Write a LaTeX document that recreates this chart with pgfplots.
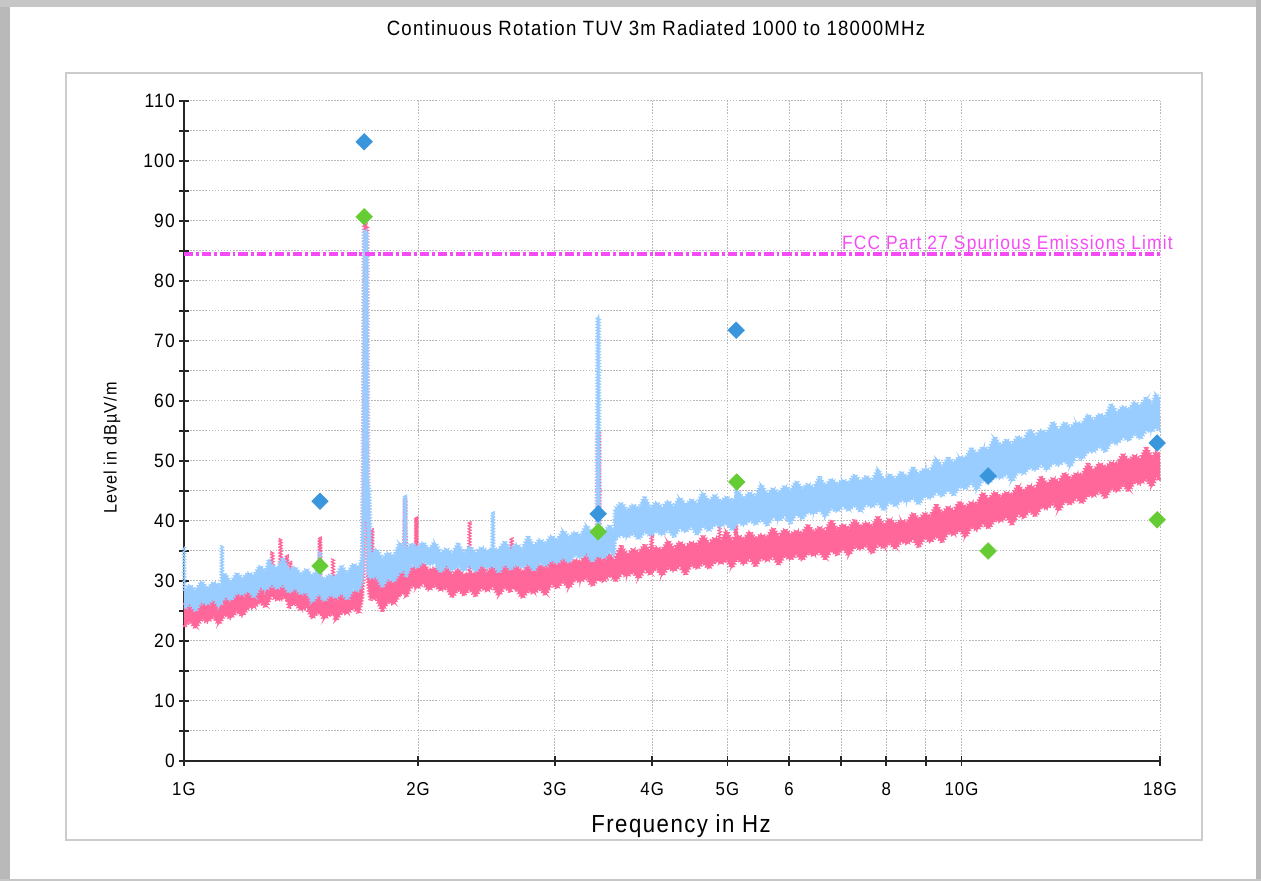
\documentclass[border=0pt]{standalone}
\usepackage{fontspec}
\setmainfont{Liberation Sans}[FakeStretch=0.9, LetterSpace=6]
\usepackage{pgfplots}
\usepackage{pgfplotstable}
\pgfplotsset{compat=1.18}
\usepgfplotslibrary{fillbetween}
\usetikzlibrary{decorations.pathmorphing}

\definecolor{traceblue}{RGB}{153,204,255}
\definecolor{tracepink}{RGB}{255,102,153}
\definecolor{mkblue}{RGB}{58,150,220}
\definecolor{mkgreen}{RGB}{102,204,51}
\definecolor{limitmag}{RGB}{245,75,245}
\definecolor{gridgray}{RGB}{185,185,185}

% blue trace: upper / lower edge of the noise band (GHz, dBuV/m)
\pgfplotstableread{
f hi lo
1.000 35.7 25.4
1.002 28.2 25.4
1.017 29.4 26.3
1.035 28.3 25.0
1.053 30.0 26.6
1.072 28.7 26.1
1.091 29.8 27.1
1.109 29.2 25.7
1.117 29.4 26.5
1.119 36.0 26.5
1.121 29.4 26.5
1.129 31.3 27.6
1.148 29.7 26.7
1.169 31.3 28.1
1.189 30.4 27.7
1.210 31.4 28.5
1.230 30.9 27.2
1.252 32.6 29.0
1.274 31.5 28.5
1.286 33.7 28.9
1.296 32.7 29.5
1.318 32.0 28.7
1.341 33.9 29.5
1.365 31.7 28.0
1.389 32.4 28.9
1.413 31.0 27.8
1.438 32.0 28.3
1.462 30.7 26.4
1.488 32.0 27.9
1.494 30.8 27.6
1.496 35.0 27.6
1.498 30.8 27.6
1.514 30.2 26.6
1.540 31.1 27.8
1.567 30.4 27.2
1.594 32.6 28.1
1.622 31.2 26.9
1.650 32.9 28.7
1.679 32.2 28.3
1.695 34.0 30.0
1.700 47.0 32.0
1.705 88.5 40.0
1.720 88.5 40.0
1.724 47.0 31.0
1.731 45.0 30.5
1.738 34.2 30.4
1.768 35.4 30.8
1.799 33.7 29.0
1.830 34.8 30.5
1.862 34.0 29.9
1.895 36.5 31.5
1.920 35.3 31.8
1.925 44.3 31.8
1.930 35.0 30.7
1.961 36.3 32.8
1.995 35.5 32.2
2.030 36.5 33.3
2.065 35.2 32.7
2.101 36.5 33.0
2.138 34.7 31.4
2.175 35.4 32.7
2.213 34.5 31.7
2.251 36.3 32.5
2.291 34.5 31.6
2.330 35.8 32.7
2.371 34.7 31.5
2.412 35.6 32.8
2.455 35.0 32.1
2.492 35.3 32.6
2.496 41.5 32.6
2.500 35.3 32.6
2.541 35.2 31.4
2.585 36.6 33.0
2.630 35.2 31.9
2.676 36.2 32.9
2.723 35.3 32.2
2.770 37.5 33.0
2.818 35.7 31.7
2.867 37.0 33.2
2.917 36.2 32.5
2.968 37.6 33.6
3.020 36.7 32.9
3.073 38.5 34.1
3.126 37.2 33.0
3.181 38.2 34.4
3.236 37.5 33.8
3.293 39.4 34.7
3.350 37.7 33.2
3.398 39.0 34.2
3.402 74.0 34.2
3.418 74.0 34.2
3.422 39.5 34.2
3.467 38.0 33.8
3.528 39.3 35.0
3.575 38.3 34.3
3.585 42.0 37.0
3.652 43.1 37.7
3.715 41.7 37.2
3.780 42.8 38.0
3.846 42.0 36.9
3.913 44.1 38.3
3.981 42.1 37.5
4.050 43.2 38.4
4.121 42.2 37.6
4.193 43.4 38.6
4.266 42.3 37.3
4.340 44.0 38.8
4.416 42.6 38.2
4.493 43.6 39.1
4.571 42.9 37.6
4.651 44.8 39.3
4.732 43.1 38.3
4.815 44.4 39.5
4.898 43.2 39.0
4.984 44.0 39.7
5.070 43.4 38.4
5.130 43.9 39.3
5.135 46.0 39.3
5.140 43.9 39.3
5.158 45.0 39.9
5.248 43.7 39.2
5.340 44.8 40.2
5.433 44.0 39.4
5.528 46.2 40.4
5.623 44.3 39.2
5.721 45.5 40.6
5.821 44.6 40.0
5.923 45.9 40.9
6.026 45.0 39.5
6.131 46.7 41.3
6.237 45.3 40.3
6.346 46.2 41.6
6.457 45.5 41.1
6.569 47.4 41.9
6.683 45.7 40.6
6.800 47.1 42.2
6.918 46.1 41.5
7.039 46.9 42.5
7.161 46.3 41.7
7.286 47.8 42.7
7.413 46.5 41.5
7.543 47.5 42.9
7.674 46.6 42.3
7.808 48.7 43.2
7.943 46.7 41.7
8.082 47.8 43.4
8.222 46.9 42.4
8.366 48.2 43.6
8.511 47.2 43.1
8.660 49.0 43.9
8.810 47.7 42.7
8.964 48.8 44.3
9.120 48.3 43.7
9.279 50.5 44.8
9.441 49.0 44.1
9.606 50.6 45.3
9.772 49.7 44.2
9.943 50.8 45.8
10.12 50.4 45.3
10.29 52.2 46.4
10.47 51.1 45.1
10.65 52.4 47.0
10.84 51.8 46.2
11.03 54.1 47.5
11.22 52.4 47.1
11.42 53.6 47.8
11.61 52.7 46.5
11.82 54.2 48.3
12.02 53.4 47.8
12.23 55.3 49.0
12.45 54.1 48.4
12.66 55.2 49.5
12.88 54.6 48.4
13.11 56.6 49.8
13.34 55.0 49.2
13.57 56.5 50.2
13.80 55.5 48.9
14.05 56.5 50.9
14.29 56.1 50.2
14.54 57.8 51.7
14.79 56.7 51.5
15.05 57.9 52.5
15.31 57.3 51.5
15.58 59.6 53.3
15.85 57.9 52.8
16.13 59.2 54.0
16.41 58.5 53.4
16.69 59.9 54.6
16.98 59.0 53.6
17.28 60.7 55.2
17.58 59.4 54.8
17.80 61.3 55.8
18.00 60.0 54.9
}\bluetrace

% pink trace
\pgfplotstableread{
f hi lo
1.000 26.0 22.3
1.017 26.9 23.4
1.035 26.0 22.1
1.053 27.5 23.7
1.072 26.4 23.1
1.091 27.3 24.1
1.109 26.7 22.7
1.129 28.5 24.5
1.148 27.0 23.7
1.169 28.5 25.0
1.189 27.7 24.1
1.210 28.6 25.7
1.230 28.2 25.5
1.252 30.0 26.6
1.274 28.9 25.6
1.296 29.9 27.5
1.299 34.8 27.4
1.302 29.5 27.3
1.318 29.2 26.8
1.328 29.3 27.0
1.331 37.0 27.0
1.334 29.3 27.0
1.341 30.8 27.3
1.354 29.0 27.0
1.356 34.3 27.0
1.358 29.0 26.9
1.365 28.7 25.4
1.370 33.2 25.8
1.373 28.7 26.0
1.389 29.2 26.3
1.413 27.9 25.1
1.438 28.9 25.6
1.462 27.2 23.7
1.488 27.7 24.9
1.494 27.2 24.6
1.496 37.3 24.6
1.498 27.2 24.6
1.514 26.7 23.6
1.540 28.3 24.5
1.553 27.0 24.3
1.555 33.8 24.3
1.557 27.0 24.3
1.567 26.7 23.3
1.594 28.2 24.8
1.622 27.4 24.5
1.650 28.4 25.6
1.679 28.2 24.6
1.695 29.5 27.0
1.700 49.0 30.0
1.705 89.5 40.0
1.720 89.5 40.0
1.724 47.0 30.0
1.731 42.0 28.0
1.738 30.3 26.8
1.743 30.0 27.0
1.745 38.8 27.0
1.747 30.0 27.0
1.768 30.9 27.1
1.799 29.2 24.9
1.830 30.3 26.6
1.862 29.7 26.1
1.895 32.3 27.8
1.920 31.3 28.0
1.925 44.0 28.0
1.930 31.2 27.2
1.961 32.5 29.2
1.987 32.0 29.0
1.990 40.7 29.0
1.993 31.9 28.7
2.030 33.1 29.6
2.065 31.7 28.4
2.101 32.2 29.3
2.138 31.2 28.4
2.175 32.7 28.9
2.213 31.0 27.2
2.251 32.1 28.7
2.291 31.0 27.6
2.327 31.3 28.6
2.330 39.8 28.6
2.333 31.3 28.6
2.371 31.2 27.4
2.412 32.8 28.9
2.455 31.5 28.3
2.497 32.4 29.1
2.541 31.7 27.5
2.585 33.5 29.1
2.630 31.7 28.1
2.640 37.3 28.7
2.645 31.7 28.7
2.676 32.5 28.7
2.723 31.4 27.1
2.770 32.9 28.4
2.818 31.7 27.9
2.867 32.7 28.8
2.917 32.2 27.6
2.968 34.1 29.5
3.020 32.7 28.8
3.073 33.9 30.0
3.126 32.9 28.7
3.181 33.6 30.3
3.236 33.1 29.8
3.293 34.6 30.6
3.350 33.3 29.1
3.398 34.0 30.2
3.402 55.0 30.2
3.418 55.0 30.2
3.422 34.0 30.2
3.467 33.4 29.9
3.528 34.5 31.0
3.575 33.5 30.3
3.589 33.9 29.9
3.652 35.9 31.2
3.715 34.2 30.7
3.780 35.4 31.6
3.846 34.7 30.3
3.913 36.1 31.9
3.981 34.9 31.0
3.997 37.7 31.5
4.003 35.0 31.6
4.050 35.7 32.1
4.121 35.1 30.8
4.193 36.8 32.3
4.266 35.3 31.6
4.340 36.6 32.5
4.416 35.7 31.0
4.493 36.5 32.8
4.571 36.0 32.0
4.651 37.6 33.1
4.732 36.3 32.0
4.815 37.2 33.3
4.880 37.0 33.2
4.885 41.0 33.2
4.890 37.0 33.2
4.898 36.5 32.8
4.984 38.4 33.5
5.070 36.7 32.1
5.120 37.5 33.3
5.125 41.0 33.3
5.130 37.5 33.3
5.158 37.7 33.7
5.248 36.9 32.7
5.340 38.3 33.8
5.433 37.0 32.4
5.528 37.8 33.9
5.623 37.2 33.3
5.721 38.9 34.1
5.821 37.4 32.6
5.923 38.7 34.3
6.026 37.7 33.5
6.131 38.4 34.5
6.237 37.9 33.4
6.346 39.4 34.7
6.457 38.1 34.2
6.569 39.0 34.9
6.683 38.3 33.5
6.800 40.2 35.2
6.918 38.5 34.3
7.039 39.5 35.5
7.161 38.7 34.2
7.286 40.2 35.8
7.413 39.0 35.2
7.543 39.8 36.0
7.674 39.1 34.5
7.808 40.8 36.2
7.943 39.2 35.4
8.082 40.4 36.4
8.222 39.4 35.3
8.366 40.2 36.7
8.511 39.7 36.2
8.660 41.4 37.0
8.810 40.2 35.6
8.964 41.3 37.3
9.120 40.7 36.4
9.279 42.8 37.6
9.441 41.2 36.4
9.606 42.4 38.1
9.772 41.7 37.6
9.943 43.3 38.6
10.12 42.2 37.2
10.29 43.2 39.1
10.47 42.8 38.4
10.65 44.8 39.6
10.84 43.5 38.7
11.03 44.9 40.2
11.22 44.0 39.9
11.42 44.8 40.7
11.61 44.3 39.3
11.82 46.0 41.2
12.02 44.9 40.5
12.23 46.0 41.8
12.45 45.4 40.7
12.66 47.5 42.4
12.88 46.0 42.0
13.11 47.2 43.0
13.34 46.5 41.6
13.57 48.1 43.4
13.80 47.0 42.7
14.05 48.0 43.9
14.29 47.6 42.9
14.54 49.6 44.4
14.79 48.3 44.1
15.05 49.7 45.0
15.31 48.9 43.8
15.58 49.8 45.6
15.85 49.5 44.8
16.13 51.2 46.1
16.41 50.0 44.9
16.69 51.0 46.6
16.98 50.3 46.1
17.28 52.3 47.0
17.58 50.6 45.6
17.80 51.6 47.4
18.00 51.0 46.7
}\pinktrace

\begin{document}
\begin{tikzpicture}
% frame (1px = 0.75pt, origin at the axis corner)
\fill[gray!55] (-138pt,-90pt) rectangle (-130.5pt,570.75pt);
\fill[gray!45] (-138pt,565.5pt) rectangle (807.75pt,570.75pt);
\fill[gray!55] (804pt,-90pt) rectangle (807.75pt,570.75pt);
\fill[gray!45] (-138pt,-90pt) rectangle (807.75pt,-88.5pt);
\draw[gray!40, line width=1.2pt] (-88.5pt,-59.25pt) rectangle (763.5pt,516pt);

\node[font=\fontsize{15.5}{18}\selectfont] at (354pt,549.75pt)
  {Continuous Rotation TUV 3m Radiated 1000 to 18000MHz};
\node[font=\fontsize{18.5}{22}\selectfont] at (372.75pt,-48.75pt) {Frequency in Hz};
\node[font=\fontsize{13.5}{16}\selectfont, rotate=90] at (-54pt,234.75pt) {Level in dBµV/m};

\begin{axis}[
  at={(0,0)}, anchor=south west,
  scale only axis, width=732pt, height=495pt,
  xmode=log, xmin=1, xmax=18, ymin=0, ymax=110,
  clip=false,
  axis lines*=left,
  axis line style={black!85, line width=1.1pt},
  xtick={1,2,3,4,5,6,7,8,9,10,18},
  xticklabels={1G,2G,3G,4G,5G,6,,8,,10G,18G},
  ytick={0,10,...,110},
  minor ytick={5,15,...,105},
  tick align=center,
  major tick length=7.5pt, minor tick length=7.5pt,
  every tick/.style={black!85, line width=1.1pt},
  grid=both,
  major grid style={gridgray, line width=0.75pt, dash pattern=on 1.1pt off 1.2pt},
  minor grid style={gridgray, line width=0.75pt, dash pattern=on 1.1pt off 1.2pt},
  /pgf/number format/assume math mode=true,
  xticklabel style={font=\fontsize{14}{16}\selectfont, anchor=base, inner sep=0pt, yshift=-22pt},
  yticklabel style={font=\fontsize{14.5}{16}\selectfont, anchor=east, inner sep=0pt, xshift=-3pt},
  noise/.style={line width=0.8pt, decorate,
    decoration={zigzag, amplitude=1.1pt, segment length=2.2pt}},
]
\addplot[name path=pu, draw=none, forget plot] table[x=f, y=hi] {\pinktrace};
\addplot[name path=pl, draw=none, forget plot] table[x=f, y=lo] {\pinktrace};
\addplot[tracepink] fill between[of=pu and pl, on layer=main];
\addplot[tracepink, noise] table[x=f, y=hi] {\pinktrace};
\addplot[tracepink, noise] table[x=f, y=lo] {\pinktrace};

\addplot[name path=bu, draw=none, forget plot] table[x=f, y=hi] {\bluetrace};
\addplot[name path=bl, draw=none, forget plot] table[x=f, y=lo] {\bluetrace};
\addplot[traceblue] fill between[of=bu and bl, on layer=main];
\addplot[traceblue, noise] table[x=f, y=hi] {\bluetrace};
\addplot[traceblue, noise] table[x=f, y=lo] {\bluetrace};

% limit line
\addplot[limitmag, line width=2.4pt, dash pattern=on 7pt off 2.2pt on 2.2pt off 2.2pt]
  coordinates {(1,84.5) (18,84.5)};
\node[anchor=base east, text=limitmag, font=\fontsize{14.5}{17}\selectfont, inner sep=0pt]
  at (axis cs:18,84.5) [xshift=9.75pt, yshift=3.5pt] {FCC Part 27 Spurious Emissions Limit};

% final measurement points
\addplot[only marks, mark=square*, mark size=4.4pt, mark options={rotate=45}, color=mkblue]
  coordinates {(1.496,43.3) (1.705,103.2) (3.41,41.2) (5.13,71.8) (10.82,47.5) (17.85,53.0)};
\addplot[only marks, mark=square*, mark size=4.4pt, mark options={rotate=45}, color=mkgreen]
  coordinates {(1.496,32.5) (1.705,90.7) (3.41,38.2) (5.14,46.5) (10.82,35.0) (17.85,40.2)};
\end{axis}
\end{tikzpicture}
\end{document}
